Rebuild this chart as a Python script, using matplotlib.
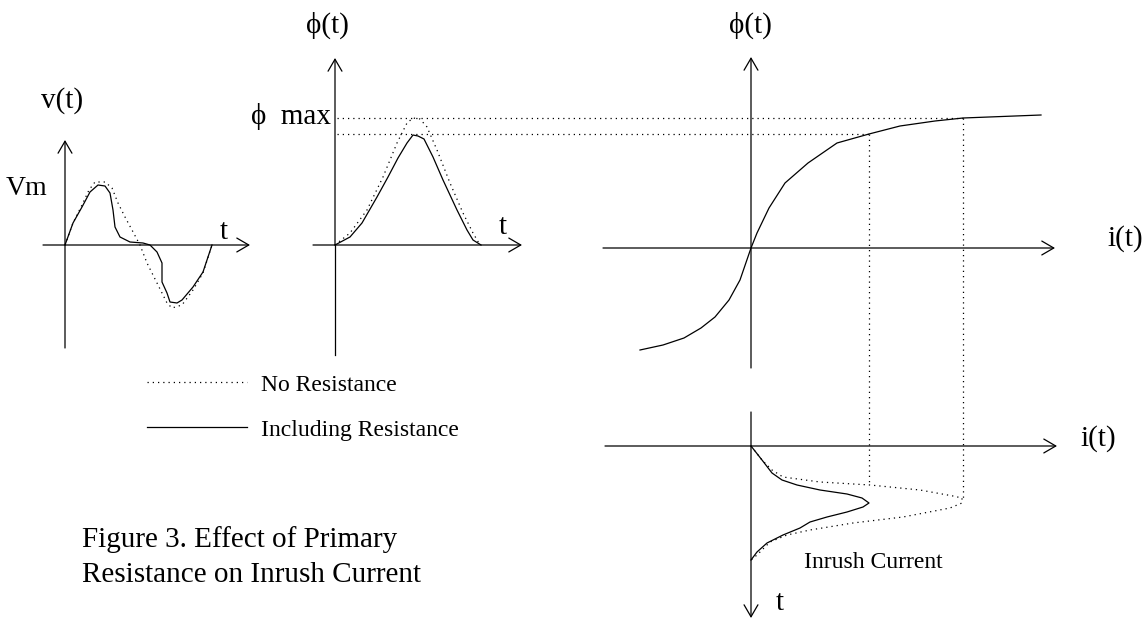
import matplotlib
matplotlib.use("Agg")
import matplotlib.pyplot as plt
from matplotlib.lines import Line2D

plt.rcParams['font.family'] = ['Liberation Serif', 'DejaVu Serif']

# ---- data (units = pixels from each panel's origin) ----
# v(t): with and without primary resistance
v_t_R = [0, 8, 17, 25, 33, 40, 45, 48, 50, 55, 65, 78, 85, 92, 97, 97, 102, 105, 112, 117, 128, 138, 147]
v_R = [0, 22, 38, 53, 60, 59, 52, 35, 18, 8, 3, 2, 0, -7, -18, -37, -48, -57, -58, -55, -42, -27, 0]
v_t_noR = [0, 8, 17, 24, 30, 40, 47, 53, 60, 67, 75, 82, 92, 102, 107, 117, 128, 138, 147]
v_noR = [0, 22, 40, 55, 63, 63, 57, 42, 28, 15, 0, -18, -38, -58, -63, -60, -45, -28, 0]

# phi(t)
phi_t_R = [0, 15, 27, 42, 53, 63, 72, 78, 83, 89, 98, 108, 122, 132, 138, 146]
phi_R = [0, 8, 22, 48, 68, 87, 102, 110, 109, 106, 88, 65, 35, 15, 5, 0]
phi_t_noR = [0, 15, 32, 48, 62, 72, 78, 85, 92, 102, 115, 128, 138, 145]
phi_noR = [0, 12, 35, 68, 102, 122, 127, 126, 118, 95, 62, 32, 12, 0]

# magnetising curve phi(i)
sat_i = [-111, -88, -67, -50, -36, -22, -11, 0, 6, 18, 34, 57, 86, 118, 149, 184, 212, 290]
sat_phi = [-102, -97, -90, -80, -69, -52, -32, 0, 15, 40, 65, 85, 105, 114, 122, 127, 130, 133]

# inrush current i(t), time running downwards
inr_t_R = [0, 14, 27, 34, 39, 44, 48, 52, 57, 61, 66, 71, 76, 82, 89, 97, 106, 114]
inr_i_R = [0, 11, 21, 31, 46, 69, 96, 111, 118, 112, 96, 76, 59, 49, 32, 16, 6, 0]
inr_t_noR = [0, 14, 24, 31, 36, 39, 44, 50, 52, 57, 62, 71, 77, 84, 89, 96, 109, 114]
inr_i_noR = [0, 11, 21, 32, 69, 119, 169, 202, 211, 211, 199, 152, 102, 59, 36, 19, 6, 0]

# projection guides
phi_max = [114, 130]      # with R, without R (phi-i panel)
i_peak = [118, 212]       # with R, without R
t_guide_end = [39, 52]    # where the guides stop in the inrush panel

W, H = 1147, 619
fig = plt.figure(figsize=(W / 100, H / 100), dpi=100)

LW = 0.9
DOT = dict(color='black', lw=LW, linestyle=(0, (1, 3.2)), dash_capstyle='butt', clip_on=False)
SOLID = dict(color='black', lw=LW, clip_on=False)
BIG = 21
SMALL = 17


def panel(ox, oy, x0, x1, y0, y1):
    ax = fig.add_axes([(ox + x0) / W, 1 - (oy - y0) / H, (x1 - x0) / W, (y1 - y0) / H])
    ax.set_xlim(x0, x1)
    ax.set_ylim(y0, y1)
    ax.axis('off')
    return ax


def arrow(ax, start, tip):
    ax.annotate('', xy=tip, xytext=start,
                arrowprops=dict(arrowstyle='->,head_length=8.6,head_width=5', mutation_scale=1,
                                lw=LW, color='black', shrinkA=0, shrinkB=0),
                annotation_clip=False)


def line(ax, p, q, **kw):
    ax.plot([p[0], q[0]], [p[1], q[1]], **kw)


# v(t) panel
oxA, oyA = 65, 245
axA = panel(oxA, oyA, -60, 200, -110, 160)
arrow(axA, (-22, 0), (185, 0))
arrow(axA, (0, -103), (0, 105))
axA.plot(v_t_noR, v_noR, **DOT)
axA.plot(v_t_R, v_R, **SOLID)
axA.text(-3, 144, 'v(t)', fontsize=BIG, ha='center', va='center')
axA.text(-38, 57, 'Vm', fontsize=BIG - 1, ha='center', va='center')
axA.text(159, 13, 't', fontsize=BIG, ha='center', va='center')

# phi(t) panel
oxB, oyB = 335, 245
axB = panel(oxB, oyB, -90, 200, -115, 235)
arrow(axB, (-22, 0), (187, 0))
line(axB, (0, -110), (0, 0), **SOLID)
arrow(axB, (0, 0), (0, 187))
axB.plot(phi_t_noR, phi_noR, **DOT)
axB.plot(phi_t_R, phi_R, **SOLID)
axB.text(-8, 220, '\u03d5(t)', fontsize=BIG, ha='center', va='center')
axB.text(-4, 128, '\u03d5  max', fontsize=BIG, ha='right', va='center')
axB.text(168, 18, 't', fontsize=BIG, ha='center', va='center')

# phi(i) panel
oxC, oyC = 751, 248
axC = panel(oxC, oyC, -150, 380, -125, 235)
arrow(axC, (-148, 0), (304, 0))
arrow(axC, (0, -120), (0, 191))
axC.plot(sat_i, sat_phi, **SOLID)
axC.text(-1, 223, '\u03d5(t)', fontsize=BIG, ha='center', va='center')
axC.text(374, 9, 'i(t)', fontsize=BIG, ha='center', va='center')
x_start = oxB + 2 - oxC
for lvl, ip in zip(phi_max, i_peak):
    line(axC, (x_start, lvl), (ip, lvl), **DOT)

# inrush panel
oxD, oyD = 751, 446
axD = panel(oxD, oyD, -150, 380, -175, 40)
arrow(axD, (-146, 0), (306, 0))
arrow(axD, (0, 34), (0, -172))
axD.plot(inr_i_noR, [-t for t in inr_t_noR], **DOT)
axD.plot(inr_i_R, [-t for t in inr_t_R], **SOLID)
dy = oyD - oyC
for lvl, ip, te in zip(phi_max, i_peak, t_guide_end):
    line(axD, (ip, lvl + dy), (ip, -te), **DOT)
axD.text(347, 7, 'i(t)', fontsize=BIG, ha='center', va='center')
axD.text(29, -157, 't', fontsize=BIG, ha='center', va='center')
axD.text(122, -117, 'Inrush Current', fontsize=SMALL, ha='center', va='center')

# legend
handles = [Line2D([], [], **{k: v for k, v in DOT.items() if k != 'clip_on'}),
           Line2D([], [], color='black', lw=LW)]
fig.legend(handles, ['No Resistance', 'Including Resistance'], loc='upper left',
           bbox_to_anchor=(147 / W, 1 - 374 / H), bbox_transform=fig.transFigure,
           frameon=False, fontsize=SMALL, handlelength=4.24, handletextpad=0.6,
           labelspacing=1.0, borderpad=0, borderaxespad=0)

# caption
fig.text(82 / W, 1 - 547 / H, 'Figure 3. Effect of Primary', fontsize=BIG, va='baseline')
fig.text(82 / W, 1 - 582 / H, 'Resistance on Inrush Current', fontsize=BIG, va='baseline')

fig.savefig('out.png', dpi=100, facecolor='white')
